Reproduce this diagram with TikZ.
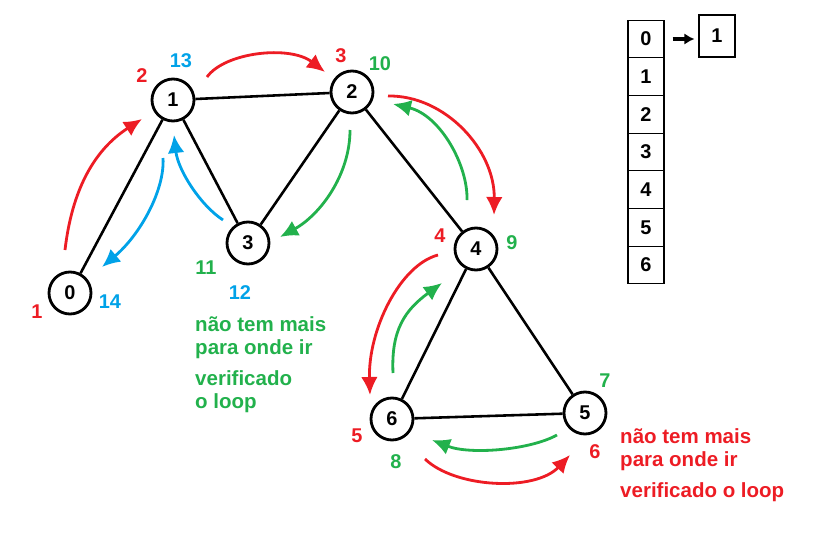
\documentclass[tikz,border=0pt]{standalone}
\usepackage{fontspec}
\setmainfont{Liberation Sans}
\usetikzlibrary{arrows.meta,positioning,calc}
\definecolor{PaintRed}{HTML}{ED1C24}
\definecolor{PaintGreen}{HTML}{22B14C}
\definecolor{PaintBlue}{HTML}{00A2E8}
\tikzset{
  vertex/.style={circle,draw,line width=2.4pt,minimum size=12.6mm,inner sep=0pt,fill=white,
                 font=\bfseries\fontsize{17}{20}\selectfont},
  edge/.style={line width=2.2pt},
  cell/.style={draw,line width=0.9pt,minimum width=10.8mm,minimum height=11.3mm,inner sep=0pt,
               font=\bfseries\fontsize{17}{20}\selectfont},
  walk/.style={-{Latex[length=5.4mm,width=5mm]},line width=2.4pt},
  order/.style={inner sep=0pt,font=\bfseries\fontsize{17}{20}\selectfont},
  note/.style={align=left,inner sep=0pt,font=\bfseries\fontsize{17.5}{19.6}\selectfont}
}

\begin{document}
\begin{tikzpicture}[x=0.3mm,y=-0.3mm]
  \useasboundingbox (0,0) rectangle (816,540);

  % graph
  \node[vertex] (n0) at (70,293) {0};
  \node[vertex] (n1) at (173,100) {1};
  \node[vertex] (n2) at (352,92) {2};
  \node[vertex] (n3) at (248,243) {3};
  \node[vertex] (n4) at (476,249) {4};
  \node[vertex] (n5) at (585,413) {5};
  \node[vertex] (n6) at (392,419) {6};

  \draw[edge] (n0) -- (n1);
  \draw[edge] (n1) -- (n2);
  \draw[edge] (n1) -- (n3);
  \draw[edge] (n2) -- (n3);
  \draw[edge] (n2) -- (n4);
  \draw[edge] (n4) -- (n6);
  \draw[edge] (n4) -- (n5);
  \draw[edge] (n6) -- (n5);

  % walk
  \draw[walk,PaintRed] ($(n0)+(-5,-43)$) .. controls +(7,-60) and +(-48,31) .. ($(n1)+(-31,19)$);
  \draw[walk,PaintBlue] ($(n1)+(-10,58)$) .. controls +(2,32) and +(38,-32) .. ($(n0)+(32,-26)$);
  \draw[walk,PaintBlue] ($(n3)+(-25,-23)$) .. controls +(-23,-15) and +(4,35) .. ($(n1)+(1,35)$);
  \draw[walk,PaintRed] ($(n1)+(34,-23)$) .. controls +(18,-25) and +(-35,-27) .. ($(n2)+(-27,-20)$);
  \draw[walk,PaintGreen] ($(n2)+(-2,38)$) .. controls +(0,45) and +(40,-22) .. ($(n3)+(32,-6)$);
  \draw[walk,PaintRed] ($(n2)+(36,4)$) .. controls +(57,-1) and +(1,-65) .. ($(n4)+(18,-34)$);
  \draw[walk,PaintGreen] ($(n4)+(-9,-49)$) .. controls +(1,-35) and +(47,11) .. ($(n2)+(41,12)$);
  \draw[walk,PaintRed] ($(n4)+(-38,6)$) .. controls +(-38,10) and +(-2,-65) .. ($(n6)+(-22,-24)$);
  \draw[walk,PaintGreen] ($(n6)+(1,-46)$) .. controls +(-2,-43) and +(-37,27) .. ($(n4)+(-34,34)$);
  \draw[walk,PaintGreen] ($(n5)+(-28,22)$) .. controls +(-27,15) and +(38,15) .. ($(n6)+(40,21)$);
  \draw[walk,PaintRed] ($(n6)+(33,40)$) .. controls +(30,29) and +(-35,37) .. ($(n5)+(-15,42)$);

  % visit order
  \node[order,text=PaintRed] (o1) at (37,312) {1};
  \node[order,text=PaintBlue] (o14) at (110,302) {14};
  \node[order,text=PaintRed] (o2) at (142,76) {2};
  \node[order,text=PaintBlue] (o13) at (181,61) {13};
  \node[order,text=PaintRed] (o3) at (341,56) {3};
  \node[order,text=PaintGreen] (o10) at (380,64) {10};
  \node[order,text=PaintGreen] (o11) at (206,268) {11};
  \node[order,text=PaintBlue] (o12) at (240,293) {12};
  \node[order,text=PaintRed] (o4) at (440,236) {4};
  \node[order,text=PaintGreen] (o9) at (512,243) {9};
  \node[order,text=PaintGreen] (o7) at (605,381) {7};
  \node[order,text=PaintRed] (o5) at (357,436) {5};
  \node[order,text=PaintRed] (o6) at (595,452) {6};
  \node[order,text=PaintGreen] (o8) at (396,462) {8};

  % notes
  \node[note,text=PaintGreen,anchor=north west] (noteA) at (195,316)
    {não tem mais\\para onde ir\\[7pt]verificado\\o loop};
  \node[note,text=PaintRed,anchor=north west] (noteB) at (620,428)
    {não tem mais\\para onde ir\\[7pt]verificado o loop};

  % adjacency list
  \node[cell] (t0) at (646,39) {0};
  \foreach \i [evaluate=\i as \j using int(\i-1)] in {1,...,6}
    \node[cell,below=-0.9pt of t\j] (t\i) {\i};
  \node[cell,minimum height=12.6mm] (l1) at (717,36) {1};
  \draw[-{Latex[length=3mm,width=3.4mm]},line width=2.6pt,shorten <=2.4mm,shorten >=1.2mm]
    (t0.east) -- (t0.east -| l1.west);
\end{tikzpicture}
\end{document}
